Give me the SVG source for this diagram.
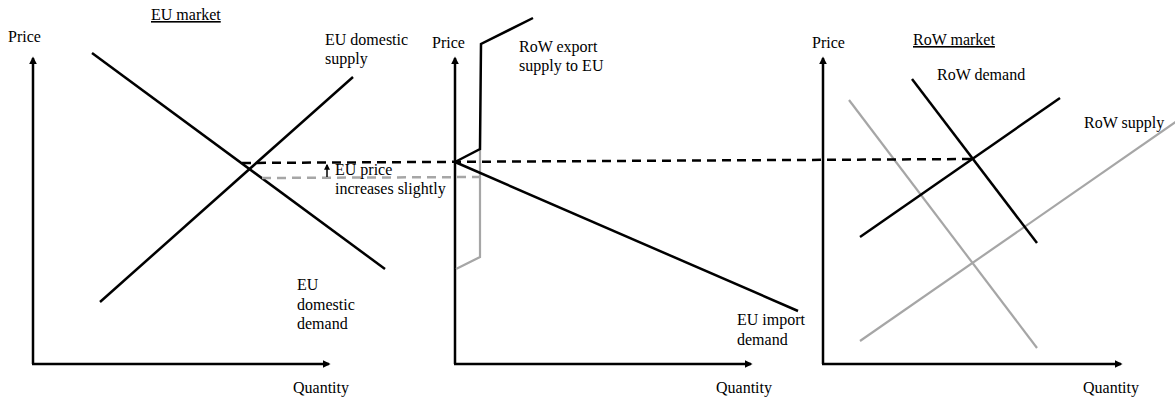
<svg xmlns="http://www.w3.org/2000/svg" width="1175" height="403" viewBox="0 0 1175 403">
<style>
text{font-family:"Liberation Serif","Times New Roman",serif;font-size:16px;fill:#000}
.ax{stroke:#000;stroke-width:2.5;fill:none}
.k{stroke:#000;stroke-width:2.5;fill:none}
.g{stroke:#a6a6a6;stroke-width:2.2;fill:none}
.kd{stroke:#000;stroke-width:2.5;stroke-dasharray:9 6;fill:none}
.gd{stroke:#a6a6a6;stroke-width:2.5;stroke-dasharray:9 6;fill:none}
.u{text-decoration:underline}
</style>
<defs>
<marker id="ah" viewBox="0 0 10 10" refX="8" refY="5" markerWidth="3.2" markerHeight="3.2" orient="auto" markerUnits="strokeWidth">
<path d="M0,0 L10,5 L0,10 z" fill="#000"/>
</marker>
<marker id="ahs" viewBox="0 0 10 10" refX="8" refY="5" markerWidth="4" markerHeight="4" orient="auto" markerUnits="strokeWidth">
<path d="M0,0 L10,5 L0,10 z" fill="#000"/>
</marker>
</defs>
<g id="eu-market">
<path class="ax" d="M33,364 L33,58" marker-end="url(#ah)"/>
<path class="ax" d="M32,364 L329,364" marker-end="url(#ah)"/>
<text x="8" y="42">Price</text>
<text x="151" y="20" class="u">EU market</text>
<text x="293" y="393">Quantity</text>
<path class="k" d="M92,53 L385,269"/>
<path class="k" d="M100,302 L353,77"/>
<text x="325" y="45">EU domestic</text>
<text x="325" y="64">supply</text>
<text x="297" y="290">EU</text>
<text x="297" y="310">domestic</text>
<text x="297" y="329">demand</text>
</g>
<g id="import-market">
<path class="ax" d="M455,364 L455,58" marker-end="url(#ah)"/>
<path class="ax" d="M454,364 L751,364" marker-end="url(#ah)"/>
<text x="432" y="48">Price</text>
<text x="716" y="393">Quantity</text>
<path class="g" d="M456,269 L480,257 L480,149"/>
<path class="k" d="M455,162 L480,149 L481,44 L533,18"/>
<path class="k" d="M455,162 L798,311"/>
<text x="519" y="52">RoW export</text>
<text x="519" y="71">supply to EU</text>
<text x="737" y="325">EU import</text>
<text x="737" y="345">demand</text>
</g>
<g id="row-market">
<path class="ax" d="M823,364 L823,58" marker-end="url(#ah)"/>
<path class="ax" d="M822,364 L1121,364" marker-end="url(#ah)"/>
<text x="812" y="48">Price</text>
<text x="913" y="45" class="u">RoW market</text>
<text x="937" y="80">RoW demand</text>
<text x="1084" y="128">RoW supply</text>
<text x="1083" y="393">Quantity</text>
<path class="g" d="M849,100 L1037,348"/>
<path class="g" d="M860,341 L1177,121"/>
<path class="k" d="M912,79 L1037,243"/>
<path class="k" d="M860,237 L1060,98"/>
</g>
<g id="connectors">
<path class="kd" d="M242,163 L972,159"/>
<path class="gd" d="M262,178 L480,177"/>
<path stroke="#000" stroke-width="1.5" fill="none" d="M327,177 L327,165" marker-end="url(#ahs)"/>
<text x="335" y="175">EU price</text>
<text x="335" y="194">increases slightly</text>
</g>
</svg>
